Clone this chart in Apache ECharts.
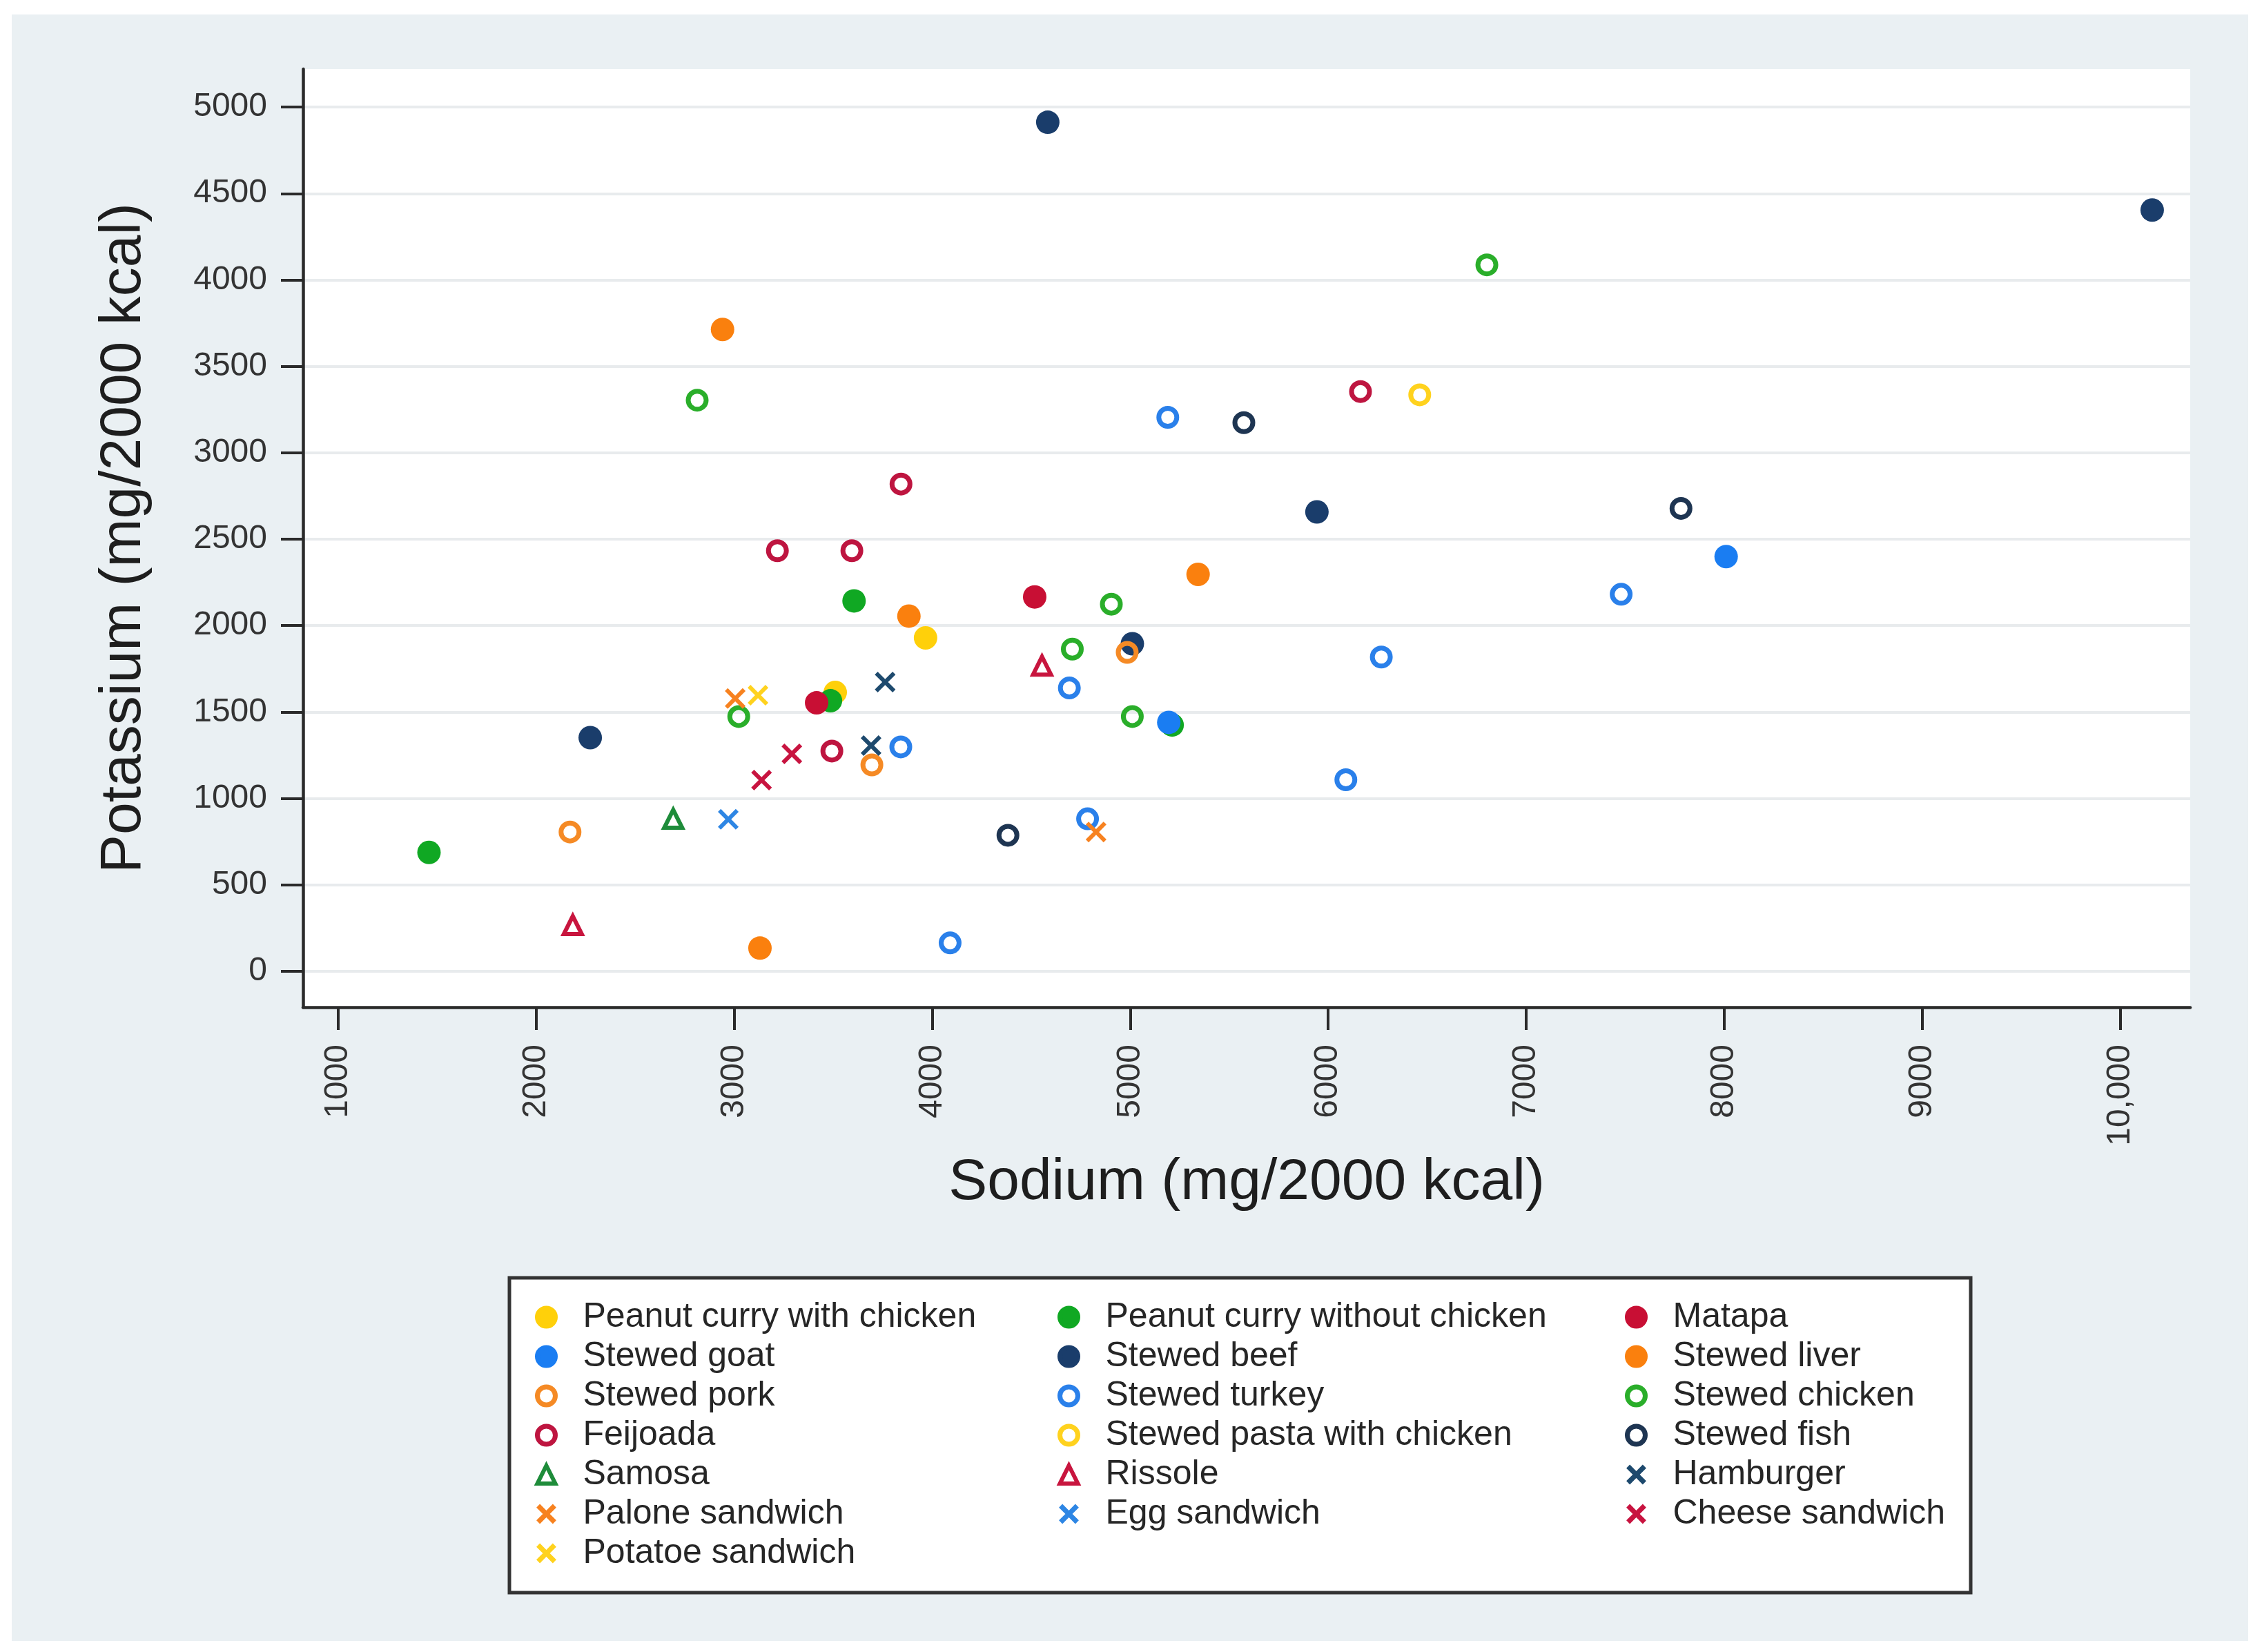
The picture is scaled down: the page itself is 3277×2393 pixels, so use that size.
<!DOCTYPE html>
<html>
<head>
<meta charset="utf-8">
<script src="https://cdn.jsdelivr.net/npm/echarts@6/dist/echarts.min.js"></script>
<style>
html,body{margin:0;padding:0;background:#ffffff;}
#chart{width:3277px;height:2393px;}
</style>
</head>
<body>
<div id="chart"></div>
<script>
// ---- tick values ----
const xTicks = [1000, 2000, 3000, 4000, 5000, 6000, 7000, 8000, 9000, 10000];
const yTicks = [0, 500, 1000, 1500, 2000, 2500, 3000, 3500, 4000, 4500, 5000];

// ---- data: [sodium, potassium] per 2000 kcal ----
const peanutCurryWithChicken    = [[3967, 1929], [3511, 1613]];
const peanutCurryWithoutChicken = [[1460, 688], [3606, 2143], [3487, 1565], [5212, 1425]];
const matapa                    = [[4518, 2166], [3417, 1553]];
const stewedGoat                = [[8009, 2399], [5195, 1440]];
const stewedBeef                = [[4584, 4912], [10160, 4404], [5943, 2658], [5011, 1895], [2274, 1352]];
const stewedLiver               = [[2942, 3713], [3883, 2055], [5343, 2296], [3131, 134]];
const stewedPork                = [[2172, 806], [3696, 1194], [4985, 1845]];
const stewedTurkey              = [[5190, 3205], [4693, 1639], [3842, 1298], [4785, 882], [4091, 164], [7479, 2181], [6268, 1818], [6089, 1108]];
const stewedChicken             = [[2814, 3304], [4905, 2124], [4708, 1864], [3024, 1474], [5011, 1474], [6801, 4087]];
const feijoada                  = [[3843, 2819], [3219, 2433], [3595, 2433], [3494, 1274], [6163, 3354]];
const stewedPastaWithChicken    = [[6462, 3335]];
const stewedFish                = [[5574, 3174], [7781, 2678], [4383, 787]];
const samosa                    = [[2693, 882]];
const rissole                   = [[4555, 1768], [2186, 267]];
const hamburger                 = [[3763, 1673], [3692, 1306]];
const paloneSandwich            = [[3006, 1578], [4828, 806]];
const eggSandwich               = [[2971, 879]];
const cheeseSandwich            = [[3292, 1258], [3139, 1106]];
const potatoeSandwich           = [[3121, 1597]];

// ---- series definitions (name, data, marker kind, colour) ----
const seriesDefs = [
  ['Peanut curry with chicken',    peanutCurryWithChicken,    'filled',   '#FFD00A'],
  ['Peanut curry without chicken', peanutCurryWithoutChicken, 'filled',   '#10A823'],
  ['Matapa',                       matapa,                    'filled',   '#C80F34'],
  ['Stewed goat',                  stewedGoat,                'filled',   '#1A7DF2'],
  ['Stewed beef',                  stewedBeef,                'filled',   '#1A3D6B'],
  ['Stewed liver',                 stewedLiver,               'filled',   '#FA800E'],
  ['Stewed pork',                  stewedPork,                'hollow',   '#F58A25'],
  ['Stewed turkey',                stewedTurkey,              'hollow',   '#2A80EA'],
  ['Stewed chicken',               stewedChicken,             'hollow',   '#2AAE2A'],
  ['Feijoada',                     feijoada,                  'hollow',   '#BE1540'],
  ['Stewed pasta with chicken',    stewedPastaWithChicken,    'hollow',   '#FFD21E'],
  ['Stewed fish',                  stewedFish,                'hollow',   '#1E3552'],
  ['Samosa',                       samosa,                    'triangle', '#1E8C3A'],
  ['Rissole',                      rissole,                   'triangle', '#C8153E'],
  ['Hamburger',                    hamburger,                 'x',        '#1E4A6E'],
  ['Palone sandwich',              paloneSandwich,            'x',        '#F78220'],
  ['Egg sandwich',                 eggSandwich,               'x',        '#2E86E4'],
  ['Cheese sandwich',              cheeseSandwich,            'x',        '#C81440'],
  ['Potatoe sandwich',             potatoeSandwich,           'x',        '#FFD21E']
];

const legendCol1 = ['Peanut curry with chicken', 'Stewed goat', 'Stewed pork', 'Feijoada', 'Samosa', 'Palone sandwich', 'Potatoe sandwich'];
const legendCol2 = ['Peanut curry without chicken', 'Stewed beef', 'Stewed turkey', 'Stewed pasta with chicken', 'Rissole', 'Egg sandwich'];
const legendCol3 = ['Matapa', 'Stewed liver', 'Stewed chicken', 'Stewed fish', 'Hamburger', 'Cheese sandwich'];

const X_PATH = 'path://M1.4,0L5,3.6L8.6,0L10,1.4L6.4,5L10,8.6L8.6,10L5,6.4L1.4,10L0,8.6L3.6,5L0,1.4Z';
const FONT = '"Liberation Sans", Arial, Helvetica, sans-serif';

const defByName = {};
seriesDefs.forEach(d => { defByName[d[0]] = d; });

function markerStyle(kind, color) {
  if (kind === 'filled') return { symbol: 'circle', symbolSize: 34, itemStyle: { color: color, borderWidth: 0, opacity: 1 } };
  if (kind === 'hollow') return { symbol: 'circle', symbolSize: 26, itemStyle: { color: 'rgba(0,0,0,0)', borderColor: color, borderWidth: 7, opacity: 1 } };
  if (kind === 'triangle') return { symbol: 'triangle', symbolSize: 26, itemStyle: { color: 'rgba(0,0,0,0)', borderColor: color, borderWidth: 6, opacity: 1 } };
  return { symbol: X_PATH, symbolSize: 30, itemStyle: { color: color, borderWidth: 0, opacity: 1 } };
}
function legendEntry(name) {
  const kind = defByName[name][2], color = defByName[name][3];
  if (kind === 'filled') return { name: name, itemStyle: { color: color, borderColor: color, borderWidth: 7, opacity: 1 } };
  if (kind === 'hollow') return { name: name, itemStyle: { color: 'rgba(0,0,0,0)', borderColor: color, borderWidth: 7, opacity: 1 } };
  if (kind === 'triangle') return { name: name, itemStyle: { color: 'rgba(0,0,0,0)', borderColor: color, borderWidth: 6, opacity: 1 } };
  return { name: name, itemStyle: { color: color, borderColor: color, borderWidth: 2, opacity: 1 } };
}

const series = seriesDefs.map(([name, data, kind, color]) => Object.assign({
  type: 'scatter',
  name: name,
  data: data,
  emphasis: { disabled: true },
  silent: true
}, markerStyle(kind, color)));

function legendFor(names, left) {
  return {
    orient: 'vertical',
    left: left,
    top: 1879.5,
    padding: 0,
    itemGap: 0,
    itemWidth: 26,
    itemHeight: 26,
    selectedMode: false,
    textStyle: { fontFamily: FONT, fontSize: 50, color: '#262626', lineHeight: 57, padding: [0, 0, 0, 35] },
    data: names.map(legendEntry)
  };
}

const axisColor = '#2a2a2a';
const option = {
  animation: false,
  backgroundColor: '#ffffff',
  graphic: [
    { type: 'rect', z: -100, silent: true, shape: { x: 17, y: 21, width: 3240, height: 2356 }, style: { fill: '#eaf0f3' } },
    { type: 'rect', z: -90, silent: true, shape: { x: 738, y: 1851, width: 2117, height: 456 }, style: { fill: '#ffffff', stroke: '#333333', lineWidth: 5 } }
  ],
  grid: {
    left: 439, top: 100, right: 104, bottom: 934,
    show: true, backgroundColor: '#ffffff', borderWidth: 0,
    outerBoundsMode: 'none', containLabel: false
  },
  xAxis: {
    type: 'value', min: 824, max: 10352,
    name: 'Sodium (mg/2000 kcal)', nameLocation: 'middle', nameGap: 213,
    nameTextStyle: { fontFamily: FONT, fontSize: 84, color: '#1e1e1e' },
    axisLine: { show: true, onZero: false, lineStyle: { color: axisColor, width: 4.5 } },
    axisTick: { show: true, length: 33, inside: false, customValues: xTicks, lineStyle: { color: axisColor, width: 4 } },
    axisLabel: {
      customValues: xTicks, rotate: 90, margin: 54, fontFamily: FONT, fontSize: 48, color: '#333333',
      formatter: v => (v >= 10000 ? v.toLocaleString('en-US') : String(v))
    },
    splitLine: { show: false }
  },
  yAxis: {
    type: 'value', min: -208, max: 5220,
    name: 'Potassium (mg/2000 kcal)', nameLocation: 'middle', nameGap: 217,
    nameTextStyle: { fontFamily: FONT, fontSize: 84, color: '#1e1e1e' },
    axisLine: { show: true, onZero: false, lineStyle: { color: axisColor, width: 4.5 } },
    axisTick: { show: true, length: 32, inside: false, customValues: yTicks, lineStyle: { color: axisColor, width: 4 } },
    axisLabel: { customValues: yTicks, margin: 52, fontFamily: FONT, fontSize: 48, color: '#333333', formatter: v => String(v) },
    splitLine: { show: true, lineStyle: { color: '#e8ebed', width: 4 } }
  },
  legend: [
    legendFor(legendCol1, 775),
    legendFor(legendCol2, 1532),
    legendFor(legendCol3, 2354)
  ],
  series: series
};

const chart = echarts.init(document.getElementById('chart'), null, { renderer: 'canvas', width: 3277, height: 2393 });
chart.setOption(option);
</script>
</body>
</html>
